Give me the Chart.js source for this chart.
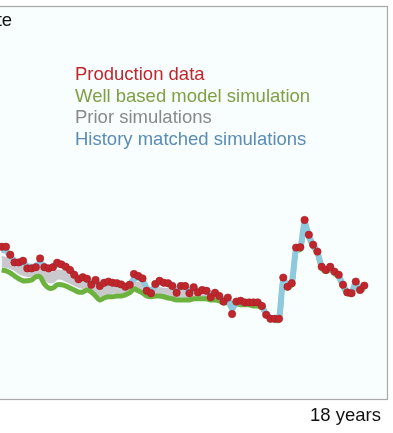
<!DOCTYPE html>
<html>
<head>
<meta charset="utf-8">
<script src="https://cdn.jsdelivr.net/npm/chart.js@4/dist/chart.umd.min.js"></script>
<style>
  html, body { margin: 0; padding: 0; background: #fff; overflow: hidden; }
  #wrap { width: 433px; height: 433px; margin-left: -40px; position: relative; }
</style>
</head>
<body>
<div id="wrap"><canvas id="chart"></canvas></div>
<script>
// monthly samples (index), about 18 years of history shown
const production = [38.3, 38.3, 36.3, 34.4, 34.4, 34.8, 32.9, 32.9, 33.2, 35.4,
  33.2, 32.9, 33.2, 34.3, 33.9, 33.3, 32.5, 31.3, 30.2, 30.7,
  30.3, 28.8, 30.0, 28.5, 29.3, 29.6, 29.3, 29.2, 28.9, 28.3,
  28.8, 31.5, 31.0, 30.4, 27.3, 26.7, 29.0, 29.8, 29.3, 29.2,
  28.5, 26.8, 28.5, 28.5, 26.7, 28.2, 26.9, 27.5, 27.3, 25.7,
  26.8, 26.0, 24.6, 25.6, 21.5, 24.6, 24.8, 24.4, 24.4, 24.4,
  24.4, 23.5, 21.3, 20.3, 20.3, 20.3, 30.6, 28.3, 29.2, 38.1,
  38.2, 45.0, 41.3, 38.8, 37.1, 33.3, 32.5, 33.3, 32.1, 31.3,
  28.8, 26.9, 26.7, 29.6, 27.5, 28.6];

const historyMatched = [37.5, 37.3, 36.0, 34.8, 34.3, 34.3, 33.5, 33.3, 33.5, 34.3,
  33.5, 33.0, 33.3, 33.8, 33.8, 33.3, 32.5, 31.5, 30.5, 30.5,
  30.0, 29.3, 29.5, 28.8, 29.0, 29.3, 29.3, 29.0, 28.8, 28.5,
  28.8, 30.3, 30.5, 30.0, 28.0, 27.3, 28.5, 29.3, 29.3, 29.0,
  28.5, 27.5, 28.3, 28.3, 27.3, 27.8, 27.3, 27.5, 27.3, 26.3,
  26.5, 26.0, 25.0, 25.3, 22.8, 24.3, 24.5, 24.3, 24.3, 24.3,
  24.3, 23.5, 21.5, 20.5, 20.3, 20.3, 30.3, 28.5, 29.3, 37.8,
  38.0, 44.5, 41.0, 38.8, 37.0, 33.5, 32.5, 33.0, 32.0, 31.0,
  28.8, 27.0, 27.0, 29.3, 27.8, 28.3];

const wellModel = [32.5, 32.3, 31.8, 31.0, 30.3, 29.8, 29.8, 30.0, 30.8, 30.8,
  29.0, 28.0, 28.0, 28.8, 28.8, 28.5, 28.0, 27.5, 27.0, 27.0,
  27.5, 27.0, 26.0, 25.0, 25.5, 25.8, 25.8, 26.0, 26.0, 26.3,
  26.8, 27.8, 27.3, 26.8, 26.0, 25.8, 26.0, 26.0, 25.8, 25.5,
  25.3, 25.0, 25.0, 25.0, 25.0, 25.3, 25.3, 25.3, 25.3, 25.0,
  25.0, 24.8, 24.3, 24.3, 24.0, 24.0, 23.8, 23.8, 23.8, 23.5,
  23.5, 23.0, 21.5, 20.3, 20.0, 20.0, 29.9, 28.1, 28.9, 37.4,
  37.6, 44.1, 40.6, 38.4, 36.6, 33.1, 32.1, 32.6, 31.6, 30.6,
  28.4, 26.6, 26.6, 28.9, 27.4, 27.9];

const priorHigh = [35.8, 35.5, 35.0, 34.5, 33.8, 33.3, 33.0, 33.0, 33.5, 33.5,
  32.5, 31.8, 31.8, 32.3, 32.3, 32.0, 31.5, 30.8, 30.0, 29.8,
  29.8, 29.0, 28.5, 27.8, 28.0, 28.3, 28.3, 28.3, 28.3, 28.3,
  28.5, 29.5, 29.3, 28.8, 27.8, 27.3, 27.8, 28.0, 27.8, 27.8,
  27.5, 27.0, 27.3, 27.3, 26.8, 27.0, 26.8, 26.8, 26.5, 26.0,
  26.0, 25.8, 25.0, 25.0, 24.5, 24.5, 24.5, 24.3, 24.3, 24.3,
  24.0, 23.5, 21.8, 20.5, 20.3, 20.3, 30.6, 28.8, 29.6, 38.1,
  38.3, 44.8, 41.3, 39.1, 37.3, 33.8, 32.8, 33.3, 32.3, 31.3,
  29.1, 27.3, 27.3, 29.6, 28.1, 28.6];

const priorLow = [33.5, 33.3, 33.0, 32.5, 31.8, 31.3, 31.0, 31.0, 31.5, 31.8,
  30.3, 29.5, 29.5, 30.3, 30.3, 29.8, 29.3, 28.8, 28.3, 28.0,
  28.3, 27.5, 27.0, 26.0, 26.3, 26.5, 26.8, 26.8, 26.8, 27.0,
  27.3, 28.0, 27.8, 27.3, 26.5, 26.0, 26.5, 26.8, 26.5, 26.3,
  26.0, 25.8, 25.8, 25.8, 25.5, 25.8, 25.8, 25.8, 25.5, 25.3,
  25.3, 25.0, 24.5, 24.5, 24.0, 24.0, 24.0, 23.8, 23.8, 23.8,
  23.5, 23.0, 21.3, 20.0, 20.0, 20.0, 30.0, 28.2, 29.0, 37.5,
  37.7, 44.2, 40.7, 38.5, 36.7, 33.2, 32.2, 32.7, 31.7, 30.7,
  28.5, 26.7, 26.7, 29.0, 27.5, 28.0];

const months = production.map((_, i) => i);

const seriesNames = ['Production data', 'Well based model simulation', 'Prior simulations', 'History matched simulations'];
const seriesText = ['#c0272d', '#80a044', '#8a8a8a', '#5b8cb6'];

const textPlugin = {
  id: 'texts',
  beforeDraw(chart) {
    const { ctx, chartArea: a } = chart;
    ctx.save();
    ctx.fillStyle = '#f8fdfd';
    ctx.fillRect(a.left, a.top, a.right - a.left, a.bottom - a.top);
    ctx.restore();
  },
  afterDraw(chart) {
    const { ctx, chartArea: a } = chart;
    ctx.save();
    ctx.strokeStyle = '#a9a9a9';
    ctx.lineWidth = 1.2;
    ctx.strokeRect(a.left + 0.5, a.top + 0.5, a.right - a.left - 1, a.bottom - a.top - 1);
    ctx.font = '18.5px "Liberation Sans", Arial, sans-serif';
    ctx.textBaseline = 'alphabetic';
    ctx.fillStyle = '#111';
    ctx.fillText('Rate', 13, 26);
    const lines = [80, 101.6, 123.2, 144.8];
    seriesNames.forEach((s, i) => {
      ctx.fillStyle = seriesText[i];
      ctx.fillText(s, 115, lines[i]);
    });
    ctx.fillStyle = '#111';
    ctx.textAlign = 'right';
    ctx.fillText('18 years', 421, 421);
    ctx.restore();
  }
};

new Chart(document.getElementById('chart'), {
  type: 'line',
  data: {
    labels: months,
    datasets: [
      {
        label: seriesNames[0],
        data: production,
        showLine: false,
        pointRadius: 3.7,
        pointBackgroundColor: '#c0272d',
        pointBorderColor: '#a51f24',
        pointBorderWidth: 0.6
      },
      {
        label: seriesNames[3],
        data: historyMatched,
        borderColor: '#8fc9de',
        borderWidth: 6,
        pointRadius: 0,
        tension: 0.2
      },
      {
        label: seriesNames[1],
        data: wellModel,
        borderColor: '#6cb23e',
        borderWidth: 5,
        pointRadius: 0,
        tension: 0.35
      },
      {
        label: seriesNames[2],
        data: priorHigh,
        borderColor: '#c9c9cd',
        borderWidth: 2,
        backgroundColor: '#c9c9cd',
        pointRadius: 0,
        tension: 0.3,
        fill: '+1'
      },
      {
        label: seriesNames[2] + ' low',
        data: priorLow,
        borderColor: '#c9c9cd',
        borderWidth: 2,
        pointRadius: 0,
        tension: 0.3,
        fill: false
      }
    ]
  },
  options: {
    responsive: true,
    maintainAspectRatio: false,
    animation: false,
    layout: { padding: { left: 20, right: 5, top: 6, bottom: 33 } },
    plugins: { legend: { display: false }, tooltip: { enabled: false } },
    scales: {
      x: { type: 'linear', display: false, min: -5.09, max: 90.55 },
      y: { display: false, min: 0, max: 98.5 }
    }
  },
  plugins: [textPlugin]
});
</script>
</body>
</html>
